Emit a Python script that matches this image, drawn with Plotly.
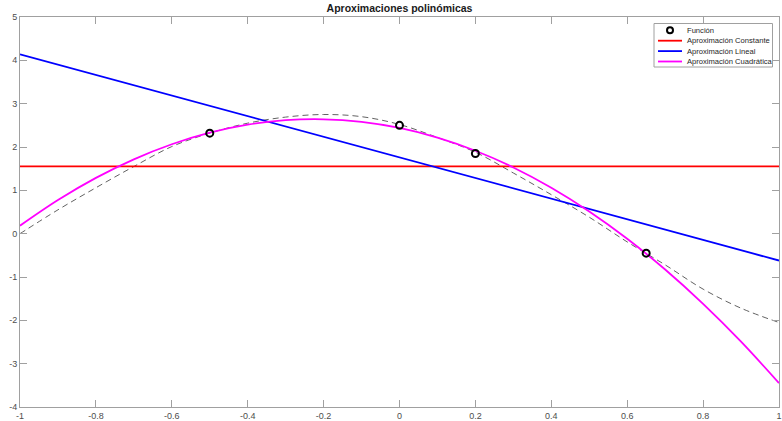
import plotly.graph_objects as go

# Function (dashed curve)
func_x = [-1.0, -0.9, -0.8, -0.7, -0.6, -0.5, -0.4, -0.3, -0.2, -0.1, 0.0,
          0.1, 0.2, 0.3, 0.4, 0.5, 0.6, 0.7, 0.8, 0.9, 1.0]
func_y = [0.0, 0.55, 1.06, 1.55, 2.01, 2.32, 2.55, 2.69, 2.75, 2.70, 2.52,
          2.22, 1.88, 1.40, 0.90, 0.38, -0.19, -0.72, -1.28, -1.72, -2.05]

# Sample points (circles)
pts_x = [-0.5, 0.0, 0.2, 0.65]
pts_y = [2.32, 2.5, 1.85, -0.45]

# Constant approximation
const_x = [-1.0, 1.0]
const_y = [1.555, 1.555]

# Linear approximation
lin_x = [-1.0, 1.0]
lin_y = [4.14, -0.62]

# Quadratic approximation
quad_x = func_x
quad_y = [0.185, 0.777, 1.288, 1.716, 2.063, 2.330, 2.515, 2.618, 2.639, 2.580, 2.439,
          2.216, 1.913, 1.528, 1.061, 0.512, -0.117, -0.828, -1.620, -2.493, -3.449]

x_ticks = [-1, -0.8, -0.6, -0.4, -0.2, 0, 0.2, 0.4, 0.6, 0.8, 1]
x_tick_labels = ["-1", "-0.8", "-0.6", "-0.4", "-0.2", "0", "0.2", "0.4", "0.6", "0.8", "1"]
y_ticks = [-4, -3, -2, -1, 0, 1, 2, 3, 4, 5]
y_tick_labels = ["-4", "-3", "-2", "-1", "0", "1", "2", "3", "4", "5"]

labels = ["Función", "Aproximación Constante", "Aproximación Lineal", "Aproximación Cuadrática"]
colors = ["black", "#ff0000", "#0000ff", "#ff00ff"]

W, H = 782, 421
ML, MR, MT, MB = 20, 3, 17, 14
PW, PH = W - ML - MR, H - MT - MB
FONT = "Liberation Sans, Arial, sans-serif"


def px(x):
    return (x - ML) / PW


def py(y):
    return 1 - (y - MT) / PH


fig = go.Figure()
fig.add_trace(go.Scatter(x=func_x, y=func_y, mode="lines",
                         line=dict(color="#505050", width=0.9, dash="6px,4px", shape="spline"),
                         showlegend=False, hoverinfo="skip"))
fig.add_trace(go.Scatter(x=const_x, y=const_y, mode="lines", line=dict(color=colors[1], width=1.8),
                         name=labels[1], showlegend=False))
fig.add_trace(go.Scatter(x=lin_x, y=lin_y, mode="lines", line=dict(color=colors[2], width=1.8),
                         name=labels[2], showlegend=False))
fig.add_trace(go.Scatter(x=quad_x, y=quad_y, mode="lines", line=dict(color=colors[3], width=1.8, shape="spline"),
                         name=labels[3], showlegend=False))
fig.add_trace(go.Scatter(x=pts_x, y=pts_y, mode="markers",
                         marker=dict(symbol="circle-open", size=7, color="black", line=dict(width=2, color="black")),
                         name=labels[0], showlegend=False))

axis_common = dict(showgrid=False, zeroline=False, showline=True, linecolor="#a0a0a0", linewidth=1,
                   mirror="allticks", ticks="inside", ticklen=7, tickcolor="#a0a0a0", automargin=False,
                   tickfont=dict(family=FONT, size=9, color="#4d4d4d"))

fig.update_xaxes(range=[-1, 1], tickvals=x_ticks, ticktext=x_tick_labels, **axis_common)
fig.update_yaxes(range=[-4, 5], tickvals=y_ticks, ticktext=y_tick_labels, **axis_common)

# Legend box drawn by hand (compact like the original)
shapes = [dict(type="rect", xref="paper", yref="paper", x0=px(654), x1=px(772.5), y0=py(23.5), y1=py(67),
               line=dict(color="#a0a0a0", width=1), fillcolor="white", layer="above")]
annotations = []
rows = [30.3, 40.7, 51.1, 61.5]
for i, (lab, row) in enumerate(zip(labels, rows)):
    if i == 0:
        shapes.append(dict(type="circle", xref="paper", yref="paper",
                           x0=px(667), x1=px(673), y0=py(row - 3), y1=py(row + 3),
                           line=dict(color="black", width=2), layer="above"))
    else:
        shapes.append(dict(type="line", xref="paper", yref="paper",
                           x0=px(658), x1=px(682), y0=py(row), y1=py(row),
                           line=dict(color=colors[i], width=1.8), layer="above"))
    annotations.append(dict(text=lab, xref="paper", yref="paper", x=px(684.5), y=py(row),
                            xanchor="left", yanchor="middle", showarrow=False,
                            font=dict(family=FONT, size=7.6, color="#262626")))

fig.update_layout(
    width=W, height=H,
    margin=dict(l=ML, r=MR, t=MT, b=MB, autoexpand=False),
    paper_bgcolor="white", plot_bgcolor="white",
    title=dict(text="<b>Aproximaciones polinómicas</b>", x=(ML + W - MR) / 2 / W, xanchor="center",
               y=1 - 8 / H, yanchor="middle",
               font=dict(family=FONT, size=10.5, color="#1a1a1a")),
    shapes=shapes, annotations=annotations,
    showlegend=False,
)

fig.write_html("out.html", config={"displayModeBar": False},
               post_script="document.body.style.margin='0px';document.body.style.overflow='hidden';")
